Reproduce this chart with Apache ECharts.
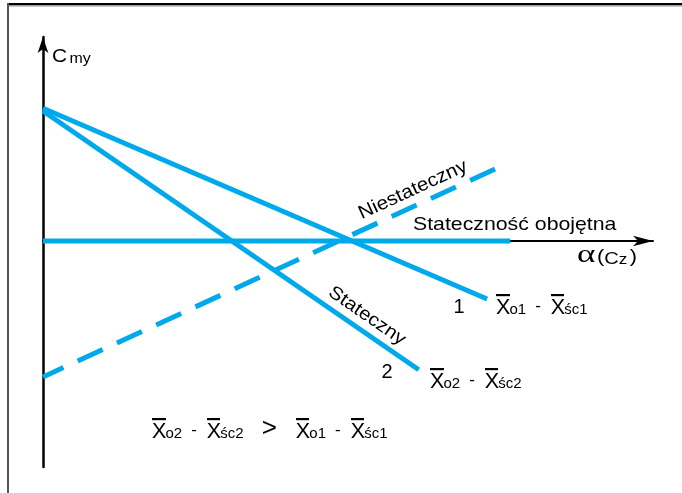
<!DOCTYPE html>
<html><head><meta charset="utf-8">
<script src="https://cdn.jsdelivr.net/npm/echarts@6/dist/echarts.min.js"></script>
<style>html,body{margin:0;padding:0;background:#fff}#c{width:682px;height:493px}</style>
</head><body><div id="c"></div>
<script>
// Schematic data: x = angle of attack α (arbitrary units 0..100), y = Cmy (0 on the α axis)
const line1X = [0, 72.8];
const line1Y = [33.2, -14.5];
const line2X = [0, 61.6];
const line2Y = [32.5, -32.2];
const neutralX = [0, 76.6];
const neutralY = [0, 0];
const unstableX = [0, 74.1];
const unstableY = [-34, 18.0];

const BLUE = '#00A9EA';
const FONT = '"Liberation Sans", Arial, sans-serif';

function pairs(xs, ys) { return xs.map((x, i) => [x, ys[i]]); }

// overline image for X-bar
const ol = document.createElement('canvas');
ol.width = 40; ol.height = 48;
const g = ol.getContext('2d');
g.fillStyle = '#000'; g.fillRect(0, 0, 40, 4);

const richX = {
  x: { fontSize: 21.5, lineHeight: 21.5, width: 13.5, padding: [3, 0, 0, 0], fontFamily: FONT, color: '#000', backgroundColor: { image: ol } },
  s: { fontSize: 15, lineHeight: 16, verticalAlign: 'bottom', fontFamily: FONT, color: '#000' },
  d: { fontSize: 17, lineHeight: 19, verticalAlign: 'middle', padding: [0, 10, 0, 9], fontFamily: FONT, color: '#000' },
  gt: { fontSize: 26, lineHeight: 20, verticalAlign: 'bottom', padding: [0, 19, 0, 18], fontFamily: FONT, color: '#000' }
};

function txt(x, y, text, size, opts) {
  return Object.assign({
    type: 'text', x: x, y: y, z: 10,
    style: Object.assign({ text: text, fontSize: size, fontFamily: FONT, fill: '#000', align: 'left', verticalAlign: 'middle' }, (opts && opts.style) || {})
  }, (opts && opts.el) || {});
}

const chart = echarts.init(document.getElementById('c'));
chart.setOption({
  animation: false,
  backgroundColor: '#fff',
  grid: { left: 43, right: 29, top: 37, bottom: 26 },
  xAxis: {
    type: 'value', min: 0, max: 100, z: 1,
    axisLine: { onZero: true, lineStyle: { color: '#000', width: 2 }, symbol: ['none', 'arrow'], symbolSize: [8, 20] },
    axisTick: { show: false }, axisLabel: { show: false }, splitLine: { show: false }
  },
  yAxis: {
    type: 'value', min: -56.5, max: 51, z: 3,
    axisLine: { onZero: false, lineStyle: { color: '#000', width: 2.5 }, symbol: ['none', 'arrow'], symbolSize: [8, 16] },
    axisTick: { show: false }, axisLabel: { show: false }, splitLine: { show: false }
  },
  series: [
    { type: 'line', data: pairs(line1X, line1Y), showSymbol: false, silent: true, lineStyle: { color: BLUE, width: 5 } },
    { type: 'line', data: pairs(line2X, line2Y), showSymbol: false, silent: true, lineStyle: { color: BLUE, width: 5 } },
    { type: 'line', data: pairs(neutralX, neutralY), showSymbol: false, silent: true, lineStyle: { color: BLUE, width: 5 } },
    { type: 'line', data: pairs(unstableX, unstableY), showSymbol: false, silent: true, lineStyle: { color: BLUE, width: 5, type: [27.5, 15.7], dashOffset: 5, cap: 'butt' } }
  ],
  graphic: [
    { type: 'rect', shape: { x: 7, y: 3, width: 675, height: 2 }, style: { fill: '#000' } },
    { type: 'rect', shape: { x: 7, y: 5, width: 675, height: 1.5 }, style: { fill: '#999' } },
    { type: 'rect', shape: { x: 7, y: 3, width: 2, height: 490 }, style: { fill: '#555' } },
    txt(52, 56.5, 'C', 19, { el: { scaleX: 1.1 } }),
    txt(69.5, 58.6, 'my', 14.5, { el: { scaleX: 1.1 } }),
    txt(413, 225, 'Stateczność obojętna', 18.5, { el: { scaleX: 1.15 } }),
    txt(577, 255.5, 'α', 26, { style: { fontFamily: '"Liberation Serif", serif' }, el: { scaleX: 1.35 } }),
    {
      type: 'text', x: 597, y: 256.5, z: 10, scaleX: 1.18,
      style: {
        text: '{p|(}{c|C}{z|z}{p|)}', verticalAlign: 'middle', align: 'left',
        rich: {
          p: { fontSize: 18.5, lineHeight: 22, fontFamily: FONT, color: '#000' },
          c: { fontSize: 17, lineHeight: 20, verticalAlign: 'bottom', fontFamily: FONT, color: '#000' },
          z: { fontSize: 14.5, lineHeight: 14, verticalAlign: 'bottom', padding: [0, 2, 0, 0], fontFamily: FONT, color: '#000' }
        }
      }
    },
    txt(413, 190, 'Niestateczny', 19, { style: { align: 'center' }, el: { rotation: 0.431, scaleX: 1.08 } }),
    txt(367, 316, 'Stateczny', 18.5, { style: { align: 'center' }, el: { rotation: -0.604, scaleX: 1.1 } }),
    txt(459, 307, '1', 20, { style: { align: 'center' } }),
    txt(387, 372, '2', 20, { style: { align: 'center' } }),
    { type: 'text', x: 496, y: 296, z: 10, style: { text: '{x|X}{s|o1}{d|-}{x|X}{s|śc1}', align: 'left', verticalAlign: 'top', rich: richX } },
    { type: 'text', x: 430, y: 370, z: 10, style: { text: '{x|X}{s|o2}{d|-}{x|X}{s|śc2}', align: 'left', verticalAlign: 'top', rich: richX } },
    { type: 'text', x: 152, y: 420, z: 10, style: { text: '{x|X}{s|o2}{d|-}{x|X}{s|śc2}{gt|>}{x|X}{s|o1}{d|-}{x|X}{s|śc1}', align: 'left', verticalAlign: 'top', rich: richX } }
  ]
});
</script>
</body></html>
